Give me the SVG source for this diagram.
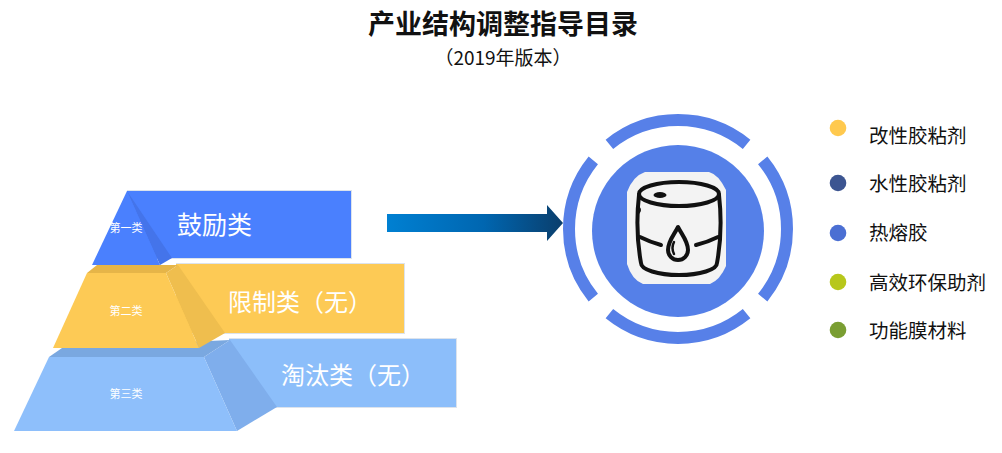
<svg xmlns="http://www.w3.org/2000/svg" width="1002" height="453" viewBox="0 0 1002 453">
<defs>
<linearGradient id="arrowGrad" x1="0" y1="0" x2="1" y2="0">
<stop offset="0" stop-color="#0080D2"/>
<stop offset="0.55" stop-color="#0066B0"/>
<stop offset="1" stop-color="#0A3E6C"/>
</linearGradient>
<style>
.cjk{font-family:"Noto Sans CJK SC","Liberation Sans",sans-serif;}
.title{font-size:27px;font-weight:bold;fill:#111;}
.sub{font-size:19px;fill:#111;}
.band{font-size:24px;fill:#fff;}
.tier{font-size:11px;fill:#fff;}
.leg{font-size:19.5px;fill:#111;}
.shadow{fill:#DCE3EC;}
.ring{fill:none;stroke:#5780E8;stroke-width:12;}
.ink{fill:none;stroke:#111;stroke-width:4;stroke-linecap:round;stroke-linejoin:round;}
</style>
</defs>
<rect width="1002" height="453" fill="#fff"/>

<g id="title">
<text class="cjk title" x="503" y="34" text-anchor="middle">产业结构调整指导目录</text>
<text class="cjk sub" x="503" y="65" text-anchor="middle">（2019年版本）</text>
</g>

<g id="tier3">
<rect class="shadow" x="229" y="338" width="228" height="70"/>
<rect x="229" y="339" width="227" height="68" fill="#8CBEFA"/>
<polygon points="49,357 204,357 230,340 62,348" fill="#7AA8E0"/>
<polygon points="204,357 230,340 277,407 237,431" fill="#7FAEEC"/>
<polygon points="49,357 204,357 237,431 14,431" fill="#8EBFFB"/>
<text class="cjk band" x="281" y="384">淘汰类（无）</text>
<text class="cjk tier" x="126" y="398" text-anchor="middle">第三类</text>
</g>

<g id="tier2">
<rect class="shadow" x="176" y="263" width="229" height="71"/>
<rect x="176" y="264" width="228" height="69" fill="#FDCA55"/>
<polygon points="87,273 166,273 178,265 97,265" fill="#E6B548"/>
<polygon points="166,273 178,265 225,333 199,348" fill="#EFBE4E"/>
<polygon points="87,273 166,273 199,348 53,348" fill="#FDCA55"/>
<text class="cjk band" x="228" y="311">限制类（无）</text>
<text class="cjk tier" x="126" y="315" text-anchor="middle">第二类</text>
</g>

<g id="tier1">
<rect class="shadow" x="127" y="190" width="225" height="69"/>
<rect x="127" y="191" width="224" height="67" fill="#4A80FE"/>
<polygon points="127,191 160,265 172,258" fill="#4474EA"/>
<polygon points="127,191 92,265 160,265" fill="#4A80FE"/>
<text class="cjk band" x="177" y="234" style="font-size:25px">鼓励类</text>
<text class="cjk tier" x="126" y="232" text-anchor="middle">第一类</text>
</g>

<g id="connectors">
<polygon points="387,214 547,214 547,205 563,223 547,241 547,232 387,232" fill="url(#arrowGrad)"/>
</g>

<g id="product">
<path class="ring" d="M609.4,144.3 A109,109 0 0 1 746.6,144.3"/>
<path class="ring" d="M762.7,160.4 A109,109 0 0 1 762.7,297.6"/>
<path class="ring" d="M746.6,313.7 A109,109 0 0 1 609.4,313.7"/>
<path class="ring" d="M593.3,297.6 A109,109 0 0 1 593.3,160.4"/>
<circle cx="678" cy="231" r="86" fill="#5580E8"/>
<path d="M645,172 L709,172 Q718,174 726,190 L726,266 Q720,280 710,284 L643,284 Q632,280 627,264 L627,192 Q633,176 645,172 Z" fill="#F3F3F3"/>
<path class="ink" d="M639,195 Q635,230 641,263 A38,12 0 0 0 717,263 Q723,230 719,195" fill="#F3F3F3"/>
<ellipse class="ink" cx="679" cy="194" rx="40" ry="12" fill="#F3F3F3"/>
<ellipse cx="660" cy="195" rx="6.5" ry="3" fill="#111"/>
<path class="ink" d="M638,208 Q640,210 638,212"/>
<path class="ink" d="M640,237 Q650,242 661,245"/>
<path class="ink" d="M696,245 Q708,242 718,237"/>
<path class="ink" d="M678,227 C674,235 668,241 668,250 A10,10 0 0 0 688,250 C688,241 682,235 678,227 Z" fill="#F3F3F3"/>
<path d="M674,242 Q671,248 674,254" fill="none" stroke="#111" stroke-width="2.5" stroke-linecap="round"/>
</g>

<g id="legend1"><circle cx="838" cy="128" r="8.3" fill="#FFC94E"/><text class="cjk leg" x="869" y="143">改性胶粘剂</text></g>
<g id="legend2"><circle cx="838" cy="183" r="8.3" fill="#3C5591"/><text class="cjk leg" x="869" y="191">水性胶粘剂</text></g>
<g id="legend3"><circle cx="838" cy="233" r="8.3" fill="#4B6FD3"/><text class="cjk leg" x="869" y="240">热熔胶</text></g>
<g id="legend4"><circle cx="838" cy="282" r="8.3" fill="#B7C71B"/><text class="cjk leg" x="869" y="290">高效环保助剂</text></g>
<g id="legend5"><circle cx="838" cy="330" r="8.3" fill="#7A9E32"/><text class="cjk leg" x="869" y="338">功能膜材料</text></g>
</svg>
